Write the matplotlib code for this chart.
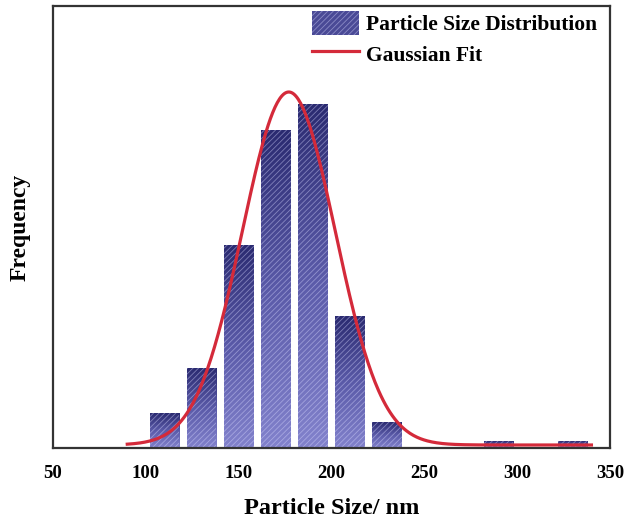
import numpy as np
import matplotlib
matplotlib.use("Agg")
import matplotlib.pyplot as plt
from matplotlib.colors import LinearSegmentedColormap
from matplotlib.patches import Patch
from matplotlib.lines import Line2D

# histogram (frequency, arbitrary units)
bin_centers = [110, 130, 150, 170, 190, 210, 230, 290, 330]
counts = [3.5, 8.0, 20.3, 31.8, 34.4, 13.2, 2.6, 0.7, 0.7]

# gaussian fit parameters
fit_center = 177.0
fit_sigma = 25.0
fit_amp = 35.3
fit_offset = 0.3
fit_start, fit_end = 90, 340

xticks = [50, 100, 150, 200, 250, 300, 350]

plt.rcParams['font.family'] = ['Liberation Serif', 'DejaVu Serif']
plt.rcParams['font.weight'] = 'bold'
plt.rcParams['hatch.linewidth'] = 0.6

fig = plt.figure(figsize=(6.33, 5.25), dpi=100)
ax = fig.add_axes([53/633, 1-448/525, 557/633, 442/525])

cmap = LinearSegmentedColormap.from_list('bars', ['#8282cc', '#5a5aa8', '#2a2a70'])
grad = np.linspace(0, 1, 256).reshape(-1, 1)
width = 16

for xc, h in zip(bin_centers, counts):
    x0 = xc - width/2
    bar = ax.bar(xc, h, width=width, facecolor='none', edgecolor=(0.85, 0.85, 1.0, 0.45),
                 hatch='//////', linewidth=0, zorder=2)[0]
    im = ax.imshow(grad, cmap=cmap, aspect='auto', origin='lower',
                   extent=[x0, x0 + width, 0, h], zorder=1)
    im.set_clip_path(bar)

xs = np.linspace(fit_start, fit_end, 400)
fit = fit_offset + fit_amp*np.exp(-(xs - fit_center)**2/(2*fit_sigma**2))
ax.plot(xs, fit, color='#d42a3a', lw=2.3, zorder=3)

ax.set_xlim(50, 350)
ax.set_ylim(0, 44.2)
ax.set_xticks(xticks)
ax.set_xticklabels([str(t) for t in xticks], fontsize=13.5, fontweight='bold')
ax.set_yticks([])
ax.tick_params(axis='x', length=0, pad=12)
for s in ax.spines.values():
    s.set_color('#333333')
    s.set_linewidth(1.6)

ax.set_xlabel('Particle Size/ nm', fontsize=17.5, fontweight='bold', labelpad=12)
ax.set_ylabel('Frequency', fontsize=17, fontweight='bold', labelpad=16)

handles = [Patch(facecolor='#4a4a96', edgecolor=(0.85, 0.85, 1.0, 0.45), hatch='//////', lw=0),
           Line2D([], [], color='#d42a3a', lw=2.3)]
ax.legend(handles, ['Particle Size Distribution', 'Gaussian Fit'], loc='upper left',
          bbox_to_anchor=(0.455, 1.0), frameon=False, borderaxespad=0,
          borderpad=0.25, handlelength=2.2, handleheight=1.3, handletextpad=0.3,
          labelspacing=0.3, prop={'weight': 'bold', 'size': 15.5})

fig.savefig('out.png', dpi=100)
